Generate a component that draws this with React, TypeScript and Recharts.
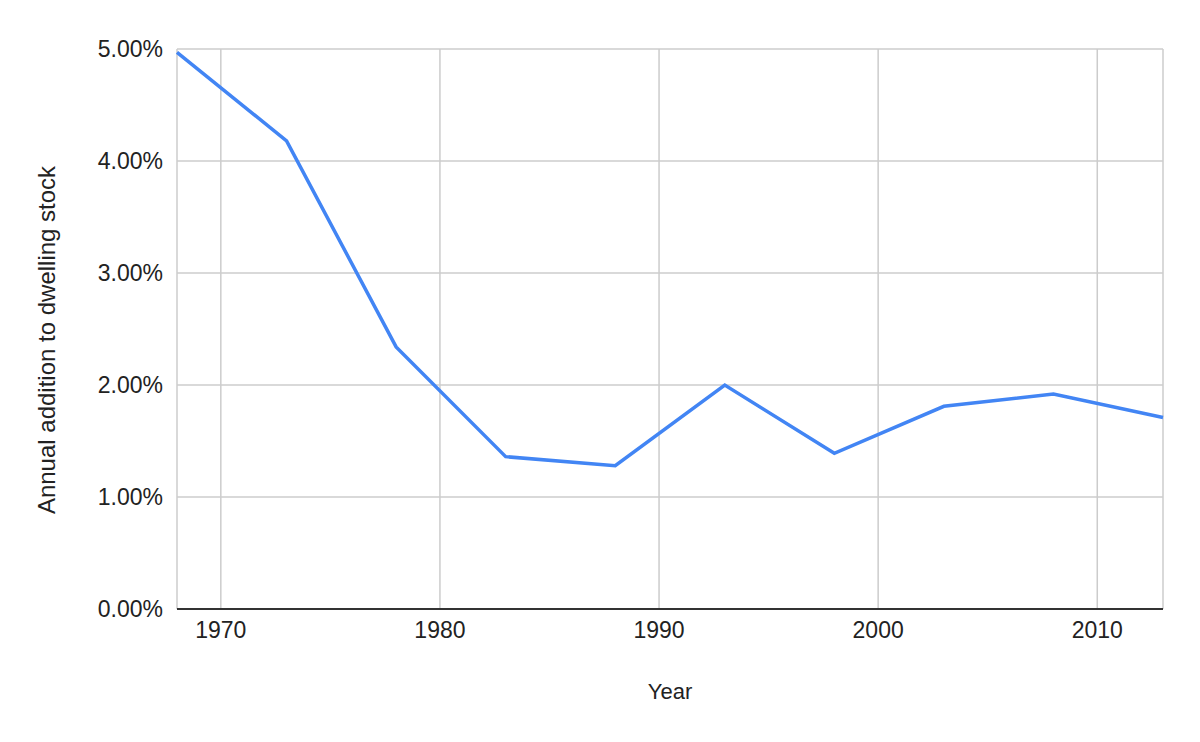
import React from "react";
import {
  LineChart,
  Line,
  XAxis,
  YAxis,
  CartesianGrid,
} from "recharts";

// Years sampled every five years
const years = [1968, 1973, 1978, 1983, 1988, 1993, 1998, 2003, 2008, 2013];
// Annual addition to dwelling stock, in percent
const additions = [4.97, 4.18, 2.34, 1.36, 1.28, 2.0, 1.39, 1.81, 1.92, 1.71];

const xTicks = [1970, 1980, 1990, 2000, 2010];
const yTicks = [0, 1, 2, 3, 4, 5];

const data = years.map((year, i) => ({ year, value: additions[i] }));

const FONT = "'Liberation Sans', Arial, sans-serif";

export default function App() {
  return (
    <div style={{ position: "absolute", left: 0, top: 0, background: "#fff" }}>
      <LineChart
        width={1200}
        height={742}
        data={data}
        margin={{ top: 49, right: 37, left: 0, bottom: 0 }}
      >
        <CartesianGrid stroke="#cccccc" strokeWidth={1.5} />
        <XAxis
          dataKey="year"
          type="number"
          domain={[1968, 2013]}
          ticks={xTicks}
          height={133}
          tickLine={false}
          tickSize={0}
          tickMargin={13}
          axisLine={{ stroke: "#333333", strokeWidth: 2 }}
          tick={{ fill: "#222222", fontSize: 23, fontFamily: FONT }}
          label={{
            value: "Year",
            position: "insideBottom",
            offset: 43,
            fill: "#222222",
            fontSize: 22,
            fontFamily: FONT,
          }}
        />
        <YAxis
          type="number"
          domain={[0, 5]}
          ticks={yTicks}
          width={177}
          tickLine={false}
          axisLine={false}
          tickSize={0}
          tickMargin={14}
          tickFormatter={(v: number) => `${v.toFixed(2)}%`}
          tick={{ fill: "#222222", fontSize: 23, fontFamily: FONT }}
          label={({ viewBox }: any) => {
            const cy = viewBox.y + viewBox.height / 2 + 11;
            return (
              <text
                x={55}
                y={cy}
                transform={`rotate(-90, 55, ${cy})`}
                textAnchor="middle"
                fill="#222222"
                fontSize={24}
                fontFamily={FONT}
              >
                Annual addition to dwelling stock
              </text>
            );
          }}
        />
        <Line
          type="linear"
          dataKey="value"
          stroke="#4285f4"
          strokeWidth={3.5}
          dot={false}
          isAnimationActive={false}
        />
      </LineChart>
    </div>
  );
}
